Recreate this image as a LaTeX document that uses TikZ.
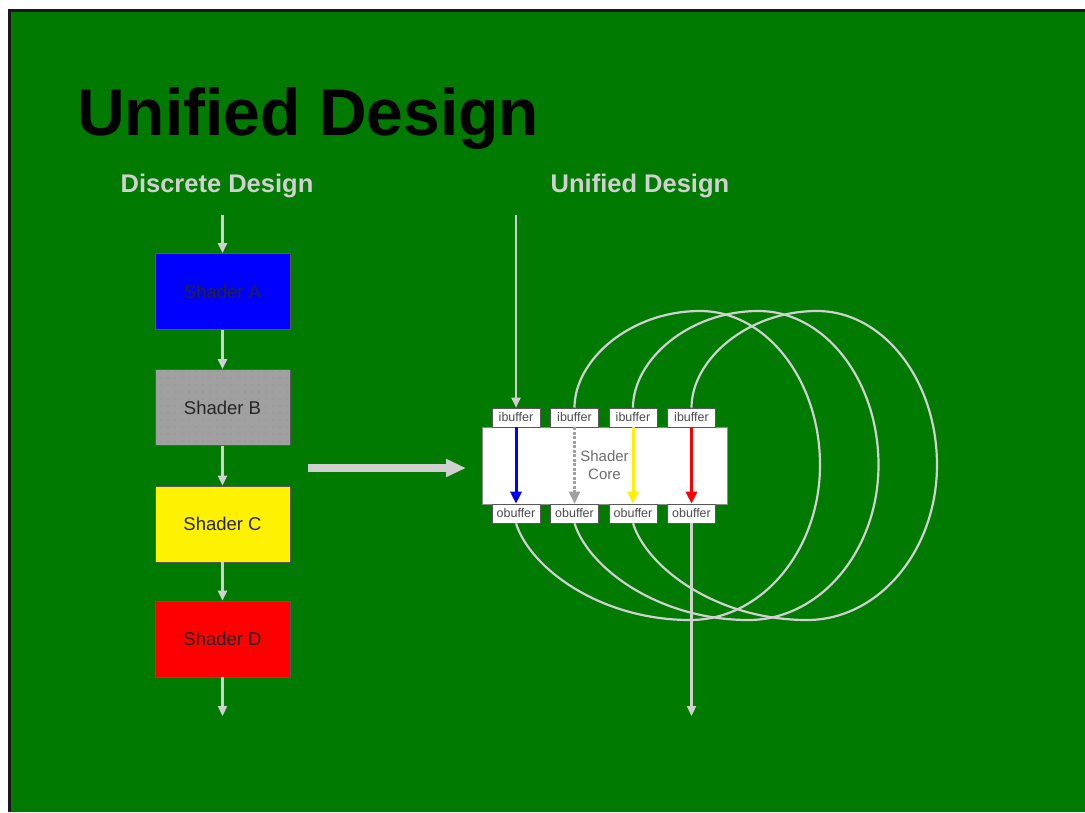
\documentclass[tikz,border=0pt]{standalone}
\usepackage{fontspec}
\setmainfont{Liberation Sans}
\usetikzlibrary{arrows.meta,patterns.meta}
\definecolor{bg}{RGB}{0,122,0}
\definecolor{lite}{RGB}{208,208,208}
\definecolor{frame}{RGB}{25,25,25}
\definecolor{shgray}{RGB}{160,160,160}
\definecolor{coretext}{RGB}{110,110,110}
\tikzset{
  flow/.style={draw=lite, line width=2.2pt, -{Triangle[length=10pt,width=9pt]}},
  loopline/.style={draw=lite, line width=2.2pt},
  shaderbox/.style={draw=black!65, line width=0.8pt, minimum width=135pt, minimum height=76pt, inner sep=0pt, font=\fontsize{18.5}{22}\selectfont, text=black!85},
  buf/.style={draw=black!65, fill=white, line width=0.6pt, minimum width=48pt, minimum height=19pt, inner sep=0pt, font=\fontsize{12.5}{14}\selectfont, text=black!70},
  coreflow/.style={line width=3pt, -{Triangle[length=12pt,width=11pt]}},
  subtitle/.style={anchor=base, inner sep=0pt, text=lite, font=\fontsize{25.5}{30}\selectfont\bfseries},
}
\begin{document}
\begin{tikzpicture}[x=1pt,y=-1pt]
\useasboundingbox (0,0) rectangle (1085,812);
\fill[white] (0,0) rectangle (1085,812);
\fill[bg] (9.5,10.5) rectangle (1085,812);
\draw[frame, line width=3pt] (9.5,812) -- (9.5,10.5) -- (1085,10.5);

% titles
\node[anchor=base west, inner sep=0pt, font=\fontsize{66}{72}\selectfont\bfseries, text=black] (title) at (77,135) {Unified Design};
\node[subtitle] (disc) at (217,192) {Discrete Design};
\node[subtitle] (unif) at (640,192) {Unified Design};

% discrete pipeline
\node[shaderbox, fill=blue] (A) at (222.5,291.5) {Shader A};
\node[shaderbox, fill=shgray, preaction={fill=shgray}, pattern={Dots[distance=7pt,radius=0.6pt]}, pattern color=black!45] (B) at (222.5,407.5) {Shader B};
\node[shaderbox, fill=yellow] (C) at (222.5,524) {Shader C};
\node[shaderbox, fill=red] (D) at (222.5,639) {Shader D};
\coordinate (lin) at (222.5,215);
\coordinate (lout) at (222.5,716);
\draw[flow] (lin) -- (A);
\draw[flow] (A) -- (B);
\draw[flow] (B) -- (C);
\draw[flow] (C) -- (D);
\draw[flow] (D) -- (lout);

% big arrow
\coordinate (bigS) at (308,468);
\coordinate (bigE) at (466,468);
\draw[draw=lite, line width=8.5pt, -{Triangle[length=20pt,width=17pt]}] (bigS) -- (bigE);

% unified core
\node[draw=black!45, fill=white, line width=0.6pt, minimum width=245pt, minimum height=77pt, inner sep=0pt, align=center, text=coretext, font=\fontsize{15}{18}\selectfont] (core) at (604.5,465.5) {Shader\\Core};
\foreach \i/\x in {1/516,2/574.5,3/633,4/691.5}{
  \node[buf] (ib\i) at (\x,417.5) {ibuffer};
  \node[buf] (ob\i) at (\x,513.5) {obuffer};
}
\draw[coreflow, blue] (ib1.south) -- (ob1.north);
\draw[coreflow, shgray, line width=2.2pt, dash pattern=on 3pt off 1.5pt] (ib2.south) -- (ob2.north);
\draw[coreflow, yellow] (ib3.south) -- (ob3.north);
\draw[coreflow, red] (ib4.south) -- (ob4.north);

% input / output
\coordinate (uin) at (516,215);
\coordinate (uout) at (691.5,716);
\draw[flow] (uin) -- (ib1);

% loops
\foreach \a/\b/\d in {ob1/ib2/0, ob2/ib3/58.5, ob3/ib4/117}{
  \draw[loopline] (\a.south) .. controls ({530+\d},568) and ({600+\d},620) .. ({690+\d},620)
     .. controls ({762+\d},620) and ({820+\d},550) .. ({820+\d},465)
     .. controls ({820+\d},380) and ({766+\d},311) .. ({700+\d},311)
     .. controls ({630+\d},311) and ({574.5+\d},360) .. (\b.north);
}
\draw[flow] (ob4) -- (uout);
\end{tikzpicture}
\end{document}
